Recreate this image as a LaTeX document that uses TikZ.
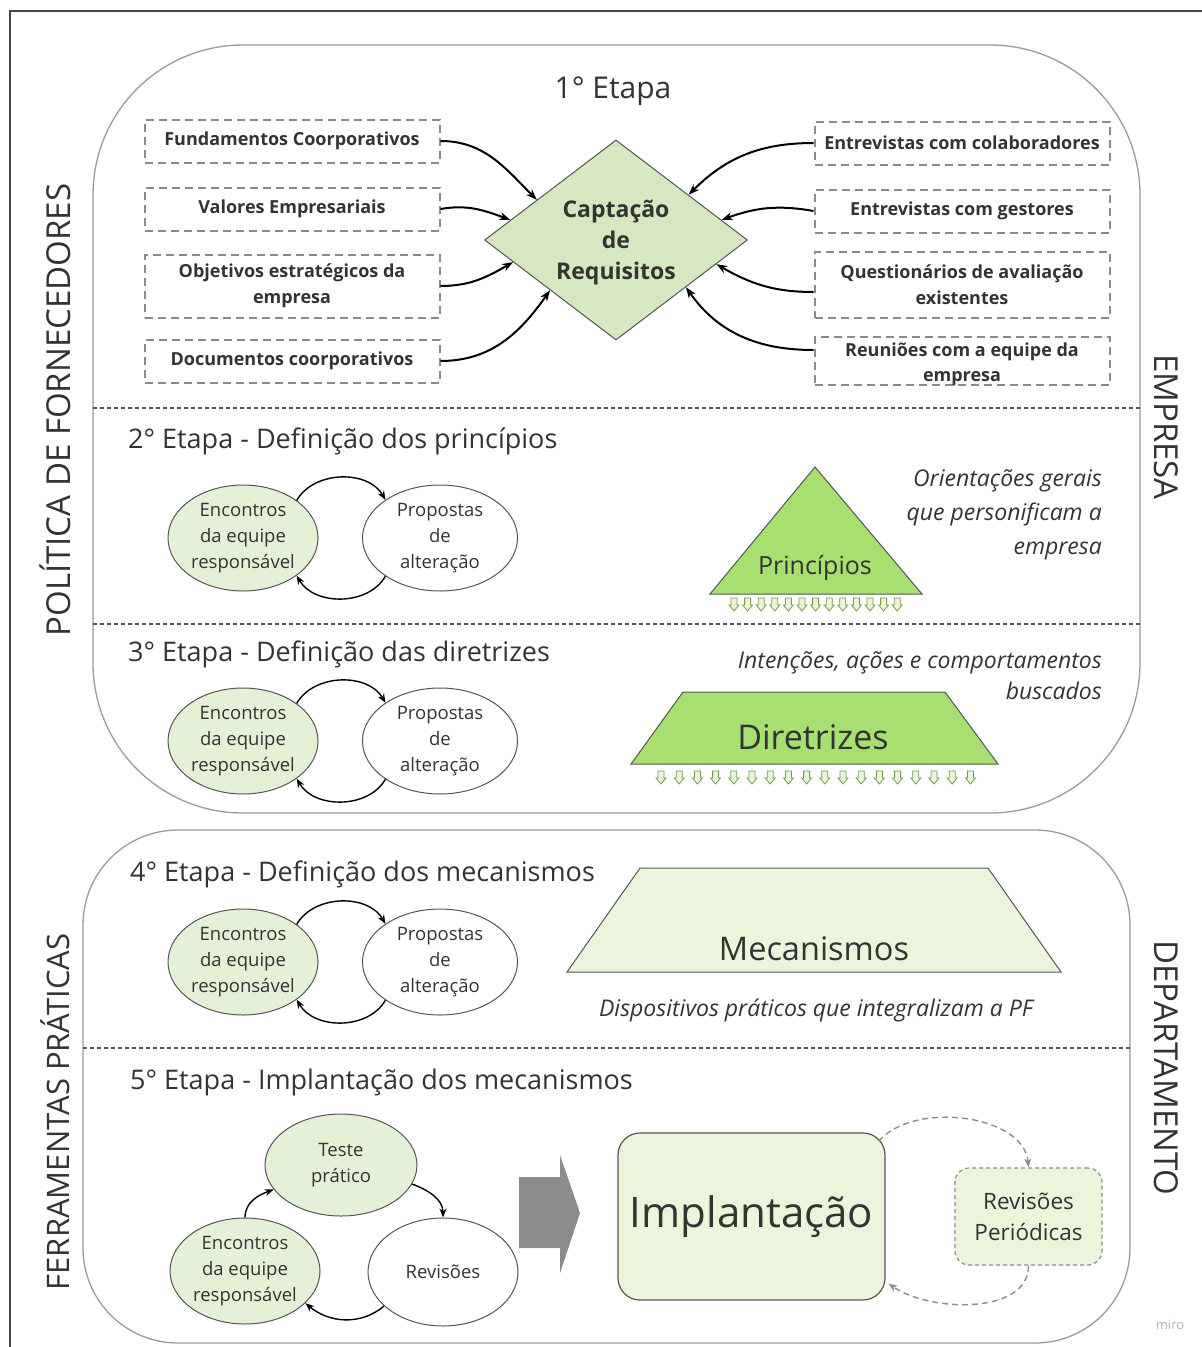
\documentclass[tikz,border=0pt]{standalone}
\usepackage{fontspec}
\setmainfont{Open Sans}
\usetikzlibrary{shapes.geometric,arrows.meta,calc}
\definecolor{txt}{HTML}{333333}
\definecolor{dgray}{HTML}{8A8A8A}
\definecolor{frame}{HTML}{9A9A9A}
\definecolor{edge}{HTML}{555555}
\definecolor{lgreen}{HTML}{E5F1D6}
\definecolor{dgreen}{HTML}{D5E8C2}
\definecolor{bgreen}{HTML}{A7DF70}
\definecolor{pgreen}{HTML}{EAF5DC}
\definecolor{arrgray}{HTML}{8C8C8C}
\newcommand\fsz[2]{\fontsize{#1}{#2}\selectfont}
\begin{document}
\begin{tikzpicture}[x=1pt,y=-1pt,
  lbox/.style={draw=dgray, line width=2pt, dash pattern=on 8pt off 5pt, minimum width=295, minimum height=43, align=center, font=\bfseries\fsz{18}{26}, text=txt, inner sep=0},
  btxt/.style={align=center, font=\bfseries\fsz{18}{25}, text=txt, inner sep=0},
  arr/.style={-{Stealth[length=11pt,width=8pt]}, line width=2pt, black},
  sarr/.style={-{Stealth[length=9pt,width=7pt]}, line width=1.4pt, black},
  garr/.style={-{Stealth[length=9pt,width=7pt]}, line width=1.4pt, arrgray, dash pattern=on 6pt off 4pt},
  gell/.style={ellipse, draw=edge, line width=1pt, fill=lgreen, minimum width=150, minimum height=106, inner sep=0, align=center, font=\fsz{18.5}{26}, text=txt},
  well/.style={ellipse, draw=edge, line width=1pt, fill=white, minimum width=155, minimum height=106, inner sep=0, align=center, font=\fsz{18.5}{26}, text=txt},
  ttl/.style={anchor=west, inner sep=0, font=\fsz{27}{30}, text=txt},
  itx/.style={anchor=east, inner sep=0, align=right, font=\itshape\fsz{23}{34}, text=txt},
  sep/.style={edge, line width=1.2pt, dash pattern=on 4pt off 3pt},
  side/.style={inner sep=0, font=\fsz{33}{36}, text=txt},
  mini/.style={draw=bgreen!70!black, line width=0.8pt, fill=pgreen}
]
\useasboundingbox (0,0) rectangle (1202,1347);
% outer frame
\draw[edge!80!black, line width=1.5pt] (10,1347) -- (10,11) -- (1202,11);
% big rounded panels
\draw[frame, line width=1.3pt, rounded corners=150pt] (93,45) rectangle (1140,813);
\draw[frame, line width=1.3pt, rounded corners=95pt] (83,830) rectangle (1130,1343);
% separators
\draw[sep] (93,408) -- (1140,408);
\draw[sep] (93,624) -- (1140,624);
\draw[sep] (83,1048) -- (1130,1048);
% side labels
\node[side, rotate=90] (pol) at (55,410) {POLÍTICA DE FORNECEDORES};
\node[side, rotate=90, font=\fsz{31}{34}] (fer) at (55,1112) {FERRAMENTAS PRÁTICAS};
\node[side, rotate=-90] (emp) at (1166,427) {EMPRESA};
\node[side, rotate=-90] (dep) at (1166,1068) {DEPARTAMENTO};

% ===== Stage 1
\node[inner sep=0, font=\fsz{30}{34}, text=txt] (t1) at (613,91) {1° Etapa};
\node[lbox] (l1) at (292,141) {Fundamentos Coorporativos};
\node[lbox] (l2) at (292,209) {Valores Empresariais};
\node[lbox, minimum height=63] (l3) at (292,286) {Objetivos estratégicos da\\empresa};
\node[lbox] (l4) at (292,361) {Documentos coorporativos};
\node[lbox] (r1) at (962,143) {Entrevistas com colaboradores};
\node[lbox] (r2) at (962,211) {Entrevistas com gestores};
\node[lbox, minimum height=66] (r3) at (962,285) {Questionários de avaliação\\existentes};
\node[lbox, minimum height=48] (r4) at (962,361) {};
\node[btxt] (r4t) at (962,364) {Reuniões com a equipe da\\empresa};

\node[diamond, draw=edge, line width=1pt, fill=dgreen, minimum width=263, minimum height=200, inner sep=0] (dia) at (616,240) {};
\node[inner sep=0, align=center, font=\bfseries\fsz{23}{31}, text=txt] (diat) at (616,243) {Captação\\de\\Requisitos};
\coordinate (a1) at ($(dia.north)!0.6!(dia.west)$);
\coordinate (a2) at ($(dia.north)!0.8!(dia.west)$);
\coordinate (a3) at ($(dia.west)!0.22!(dia.south)$);
\coordinate (a4) at ($(dia.west)!0.5!(dia.south)$);
\coordinate (b1) at ($(dia.north)!0.55!(dia.east)$);
\coordinate (b2) at ($(dia.north)!0.8!(dia.east)$);
\coordinate (b3) at ($(dia.east)!0.24!(dia.south)$);
\coordinate (b4) at ($(dia.east)!0.47!(dia.south)$);
\draw[arr] (l1.east) to[out=0,in=135] (a1);
\draw[arr] (l2.east) to[out=10,in=160] (a2);
\draw[arr] (l3.east) to[out=0,in=210] (a3);
\draw[arr] (l4.east) to[out=0,in=235] (a4);
\draw[arr] (r1.west) to[out=180,in=45] (b1);
\draw[arr] (r2.west) to[out=170,in=20] (b2);
\draw[arr] ([yshift=-7pt]r3.west) to[out=180,in=-30] (b3);
\draw[arr] ([yshift=11pt]r4.west) to[out=180,in=-55] (b4);

% ===== Stage 2
\node[ttl] (t2) at (128,441) {2° Etapa - Definição dos princípios};
\node[gell] (g2) at (243,538) {Encontros\\da equipe\\responsável};
\node[well] (w2) at (440,538) {Propostas\\de\\alteração};
\draw[sarr] (g2.35) to[out=60,in=120] (w2.145);
\draw[sarr] (w2.-145) to[out=-120,in=-60] (g2.-35);
\coordinate (pa) at (815,467);
\coordinate (pl) at (710,594);
\coordinate (pr) at (922,594);
\draw[edge, line width=1pt, fill=bgreen] (pa) -- (pl) -- (pr) -- cycle;
\node[inner sep=0, font=\fsz{25}{28}, text=txt] (pt) at (815,568) {Princípios};
\foreach \i in {0,...,12}{
  \pgfmathsetmacro\xx{734+\i*13.6}
  \draw[mini] (\xx-3,598) -- (\xx+3,598) -- (\xx+3,605) -- (\xx+5,605) -- (\xx,611) -- (\xx-5,605) -- (\xx-3,605) -- cycle;
}
\node[itx] (i2) at (1102,515) {Orientações gerais\\que personificam a\\empresa};

% ===== Stage 3
\node[ttl] (t3) at (128,654) {3° Etapa - Definição das diretrizes};
\node[gell] (g3) at (243,741) {Encontros\\da equipe\\responsável};
\node[well] (w3) at (440,741) {Propostas\\de\\alteração};
\draw[sarr] (g3.35) to[out=60,in=120] (w3.145);
\draw[sarr] (w3.-145) to[out=-120,in=-60] (g3.-35);
\draw[edge, line width=1pt, fill=bgreen] (683,692) -- (945,692) -- (998,764) -- (631,764) -- cycle;
\node[inner sep=0, font=\fsz{34}{38}, text=txt] (dt) at (813,737) {Diretrizes};
\foreach \i in {0,...,17}{
  \pgfmathsetmacro\xx{661+\i*18.2}
  \draw[mini] (\xx-3,771) -- (\xx+3,771) -- (\xx+3,778) -- (\xx+5,778) -- (\xx,784) -- (\xx-5,778) -- (\xx-3,778) -- cycle;
}
\node[itx, font=\itshape\fsz{23}{31}] (i3) at (1102,676) {Intenções, ações e comportamentos\\buscados};

% ===== Stage 4
\node[ttl] (t4) at (130,874) {4° Etapa - Definição dos mecanismos};
\node[gell] (g4) at (243,962) {Encontros\\da equipe\\responsável};
\node[well] (w4) at (440,962) {Propostas\\de\\alteração};
\draw[sarr] (g4.35) to[out=60,in=120] (w4.145);
\draw[sarr] (w4.-145) to[out=-120,in=-60] (g4.-35);
\draw[edge, line width=1pt, fill=pgreen] (640,868) -- (988,868) -- (1061,972) -- (567,972) -- cycle;
\node[inner sep=0, font=\fsz{32.5}{36}, text=txt] (mt) at (814,949) {Mecanismos};
\node[inner sep=0, font=\itshape\fsz{23}{26}, text=txt] (i4) at (816,1010) {Dispositivos práticos que integralizam a PF};

% ===== Stage 5
\node[ttl] (t5) at (130,1082) {5° Etapa - Implantação dos mecanismos};
\node[gell, minimum width=152, minimum height=102] (tp) at (341,1165) {Teste\\prático};
\node[gell] (g5) at (245,1271) {Encontros\\da equipe\\responsável};
\node[well, minimum width=150, minimum height=108] (w5) at (443,1272) {Revisões};
\draw[sarr] (g5.90) to[out=90,in=200] (tp.200);
\draw[sarr] (tp.-15) to[out=-20,in=90] (w5.90);
\draw[sarr] (w5.-150) to[out=-140,in=-40] (g5.-28);
\fill[arrgray] (519,1177) -- (560,1177) -- (560,1155) -- (580,1213) -- (560,1273) -- (560,1248) -- (519,1248) -- cycle;
\node[draw=edge, line width=1.2pt, fill=pgreen, rounded corners=22pt, minimum width=267, minimum height=167, inner sep=0, font=\fsz{42}{46}, text=txt] (imp) at (751.5,1216.5) {Implantação};
\node[draw=arrgray, line width=1.2pt, dash pattern=on 4pt off 3pt, fill=pgreen, rounded corners=14pt, minimum width=147, minimum height=97, inner sep=0, align=center, font=\fsz{22.5}{31}, text=txt] (rp) at (1028.5,1216.5) {Revisões\\Periódicas};
\draw[garr] ([xshift=-7pt,yshift=-9pt]imp.north east) to[out=50,in=95,looseness=0.9] (rp.north);
\draw[garr] (rp.south) to[out=-90,in=-35,looseness=0.9] ([xshift=3pt,yshift=17pt]imp.south east);
\node[inner sep=0, font=\fsz{13}{15}, text=gray!60] (miro) at (1170,1325) {miro};
\end{tikzpicture}
\end{document}
